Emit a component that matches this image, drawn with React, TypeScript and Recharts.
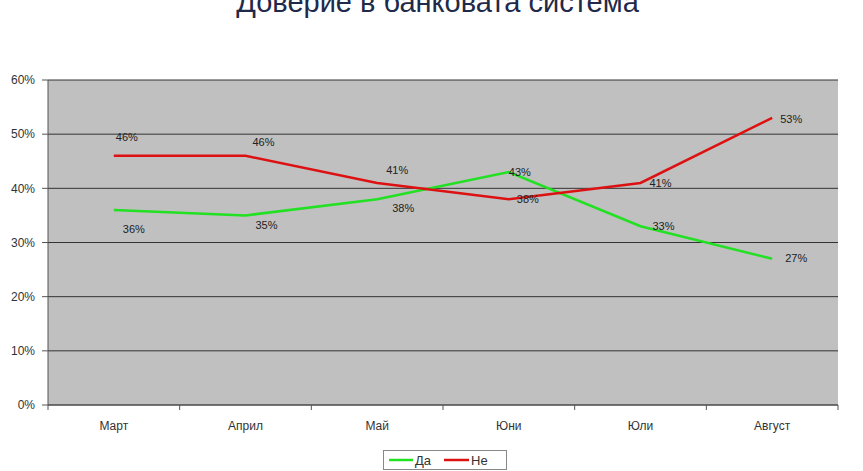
import React from 'react';
import { LineChart, Line, XAxis, YAxis, CartesianGrid, Legend, LabelList } from 'recharts';

const months = ['Март', 'Април', 'Май', 'Юни', 'Юли', 'Август'];
const yes = [36, 35, 38, 43, 33, 27];
const no = [46, 46, 41, 38, 41, 53];
const yTicks = [0, 10, 20, 30, 40, 50, 60];

const data = months.map((m, i) => ({ month: m, yes: yes[i], no: no[i] }));

const GREEN = '#22e022';
const RED = '#dd1111';
const FONT = 'Liberation Sans, Arial, sans-serif';

// label offsets relative to the point (style)
const yesOff = [[20, 19], [21, 10], [26, 9], [11, 0], [23, 0], [24, -1]];
const noOff = [[13, -19], [18, -14], [20, -13], [19, 0], [20, 0], [19, 1]];

const makeLabel = (offs: number[][]) => (props: any) => {
  const { x, y, value, index } = props;
  const o = offs[index] || [0, 0];
  return (
    <text x={x + o[0]} y={y + o[1]} textAnchor="middle" dominantBaseline="central"
      fontSize={11} fill="#222" fontFamily={FONT}>{value}%</text>
  );
};

// category tick: label at the band centre, tick marks at band boundaries (Excel style)
const CatTick = (props: any) => {
  const { x, y, payload, width, visibleTicksCount, index } = props;
  const half = width / visibleTicksCount / 2;
  const last = index === visibleTicksCount - 1;
  return (
    <g>
      <line x1={x - half} y1={y} x2={x - half} y2={y + 5} stroke="#555" />
      {last && <line x1={x + half} y1={y} x2={x + half} y2={y + 5} stroke="#555" />}
      <text x={x} y={y + 16} dy="0.71em" textAnchor="middle" fontSize={12} fill="#333" fontFamily={FONT}>
        {payload.value}
      </text>
    </g>
  );
};

const LegendBox = () => (
  <div style={{ border: '1px solid #888', background: '#fff', height: 20, width: 124, boxSizing: 'border-box',
    display: 'flex', alignItems: 'center' }}>
    <svg width={122} height={18}>
      <line x1={5} y1={9} x2={29} y2={9} stroke={GREEN} strokeWidth={2.5} />
      <text x={31} y={13.5} fontSize={13} fill="#333" fontFamily={FONT}>Да</text>
      <line x1={60} y1={9} x2={85} y2={9} stroke={RED} strokeWidth={2.5} />
      <text x={87} y={13.5} fontSize={13} fill="#333" fontFamily={FONT}>Не</text>
    </svg>
  </div>
);

export default function App() {
  return (
    <div style={{ position: 'fixed', left: 0, top: 0, width: 863, height: 471, background: '#fff', overflow: 'hidden' }}>
      <div style={{ position: 'absolute', left: 6, width: 863, top: -12, textAlign: 'center', fontSize: 29, lineHeight: '28px',
        fontFamily: FONT, color: '#1f2a4a' }}>Доверие в банковата система</div>
      <LineChart width={863} height={471} data={data} margin={{ top: 80, right: 25, bottom: 0, left: 0 }}>
        <CartesianGrid horizontal vertical={false} stroke="#333" fill="#c0c0c0" strokeWidth={1} />
        <XAxis dataKey="month" scale="band" height={66} tickLine={false} tickSize={0} tickMargin={0}
          stroke="#555" interval={0} tick={<CatTick />} />
        <YAxis domain={[0, 60]} ticks={yTicks} width={48} tickSize={6} tickMargin={7} stroke="#555"
          tickFormatter={(v: number) => `${v}%`}
          tick={{ fontSize: 12, fill: '#333', fontFamily: FONT }} />
        <YAxis yAxisId="r" orientation="right" domain={[0, 60]} width={0} tick={false} tickLine={false} stroke="#777" />
        <Line dataKey="yes" name="Да" stroke={GREEN} strokeWidth={2.5} dot={false} isAnimationActive={false}>
          <LabelList dataKey="yes" content={makeLabel(yesOff)} />
        </Line>
        <Line dataKey="no" name="Не" stroke={RED} strokeWidth={2.5} dot={false} isAnimationActive={false}>
          <LabelList dataKey="no" content={makeLabel(noOff)} />
        </Line>
        <Legend layout="horizontal" verticalAlign="middle" align="center" content={() => <LegendBox />}
          wrapperStyle={{ position: 'absolute', top: 450, left: 383, width: 124, height: 20 }} />
      </LineChart>
    </div>
  );
}
